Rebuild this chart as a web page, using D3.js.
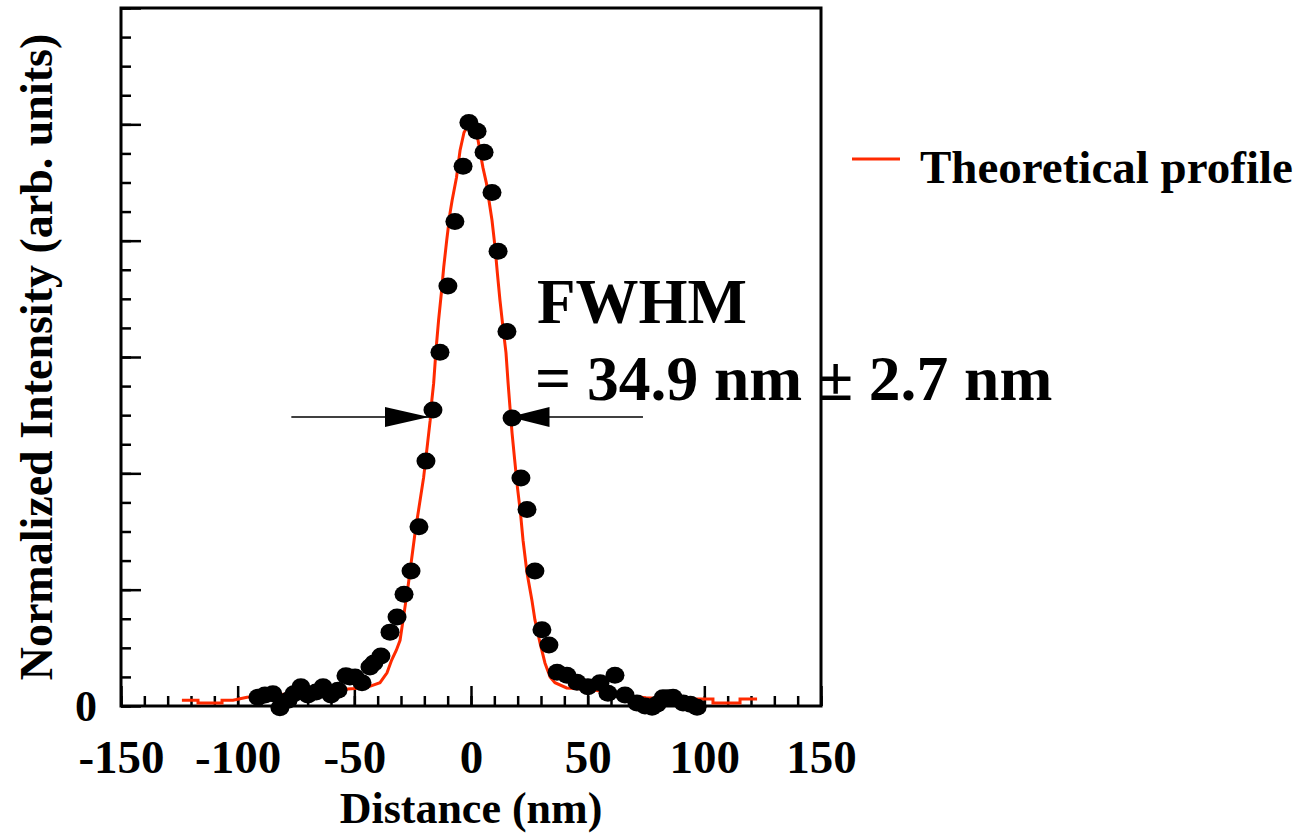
<!DOCTYPE html>
<html>
<head>
<meta charset="utf-8">
<script src="https://cdn.jsdelivr.net/npm/d3@7"></script>
<style>
  body { margin: 0; background: #fff; }
  text { font-family: "Times New Roman", "Liberation Serif", serif; font-weight: bold; fill: #000; }
</style>
</head>
<body>
<div class="plot"></div>
<script>
// measured points (nm, normalized intensity)
var dotX = [-91.3,-88.3,-84.9,-81.9,-78.4,-75.9,-72.9,-69.9,-66.4,-63.4,-60.0,-57.0,-53.6,-51.9,-49.7,-46.7,-43.3,-41.6,-38.6,
	-34.7,-31.7,-28.7,-25.7,-22.3,-19.3,-16.3,-13.3,-9.9,-6.9,-3.4,-0.9,2.6,5.6,9.0,11.6,15.4,17.6,21.4,24.0,27.4,30.4,33.4,
	36.9,41.1,45.4,50.1,55.3,58.7,61.7,66.0,71.1,74.6,77.6,79.7,82.3,84.4,86.6,90.9,94.0,96.9];
var dotY = [0.015,0.019,0.021,-0.003,0.010,0.021,0.033,0.019,0.024,0.033,0.019,0.027,0.052,0.050,0.050,0.040,0.067,0.074,0.086,
	0.127,0.153,0.192,0.232,0.308,0.421,0.509,0.608,0.722,0.833,0.928,1.003,0.988,0.952,0.883,0.782,0.644,0.495,0.392,0.338,0.232,0.131,0.105,
	0.058,0.053,0.041,0.033,0.040,0.022,0.053,0.019,0.005,0.000,-0.002,0.003,0.014,0.014,0.015,0.005,0.003,-0.002];

// theoretical profile
var profX = [-123.9,-117,-117,-106.7,-106.7,-102,-96,-90,-80,-70,-60,-50,-44,-39,-36,-34,-32,-30.4,-28.3,-26.8,-25.5,-24,-22,-20.3,
	-18.6,-17.5,-16.8,-16,-15,-13.9,-12.7,-11.7,-10.4,-9,-8.1,-6.2,-4.7,-3,-1,1.5,3,5.1,6.6,7.7,9,10.3,11.3,12.4,13.7,15,15.9,16.7,
	17.6,18.6,19.9,21.2,22.3,24,26.1,27.4,29.6,31.7,33.9,36,41,50,58,66,75,85,95,99.4,103.7,103.7,115.3,115.3,122.6];
var profY = [0.010,0.010,0.005,0.005,0.010,0.010,0.015,0.017,0.020,0.023,0.027,0.030,0.033,0.040,0.057,0.079,0.096,0.113,0.170,0.211,0.251,0.297,0.349,0.393,
	0.452,0.491,0.525,0.555,0.612,0.663,0.710,0.754,0.801,0.847,0.869,0.909,0.955,0.986,1.0,0.99,0.973,0.926,0.899,0.869,0.835,0.789,0.744,0.698,0.651,0.607,0.555,0.514,
	0.469,0.428,0.376,0.332,0.285,0.229,0.182,0.148,0.108,0.074,0.050,0.040,0.031,0.029,0.024,0.018,0.014,0.012,0.012,0.012,0.012,0.005,0.005,0.012,0.012];

var xMajor = [-150,-100,-50,0,50,100,150];
var yMajor = [0,0.2,0.4,0.6,0.8,1.0,1.2];

// FWHM arrows (nm) at half maximum
var fwhmY = 0.497;
var fwhmLeft = [-77, -18];
var fwhmRight = [16.5, 73.7];

var m = {t:8,r:494,b:128,l:121},
	W = 1315, H = 834,
	w = W - m.l - m.r,
	h = H - m.t - m.b;

var svg = d3.select('.plot')
	.append('svg')
	.attr('width', W)
	.attr('height', H);

var g = svg.append('g').attr('transform','translate('+m.l+','+m.t+')');

var x = d3.scaleLinear().domain([-150,150]).range([0,w]);
var y = d3.scaleLinear().domain([0,1.2]).range([h,0]);

// minor ticks
g.append('g')
	.attr('transform','translate(0,'+h+')')
	.call(d3.axisBottom(x).tickValues(d3.range(-150,151,10)).tickSize(-10).tickFormat(''))
	.call(s => s.select('.domain').remove())
	.selectAll('line').attr('stroke-width',2.5);
g.append('g')
	.call(d3.axisLeft(y).tickValues(d3.range(0,1.21,0.05)).tickSize(-10).tickFormat(''))
	.call(s => s.select('.domain').remove())
	.selectAll('line').attr('stroke-width',2.5);

// major ticks + labels
var xAxis = g.append('g')
	.attr('transform','translate(0,'+h+')')
	.call(d3.axisBottom(x).tickValues(xMajor).tickSize(-20).tickPadding(34).tickFormat(d => String(d)));
xAxis.select('.domain').remove();
xAxis.selectAll('line').attr('stroke-width',2.5);
xAxis.selectAll('text').style('font-size','47px');

var yAxis = g.append('g')
	.call(d3.axisLeft(y).tickValues(yMajor).tickSize(-20).tickPadding(24).tickFormat(d => d === 0 ? '0' : ''));
yAxis.select('.domain').remove();
yAxis.selectAll('line').attr('stroke-width',2.5);
yAxis.selectAll('text').style('font-size','44px');

// frame
g.append('rect')
	.attr('width', w).attr('height', h)
	.attr('fill','none').attr('stroke','#000').attr('stroke-width',3);

// theoretical profile
var prof = profX.map((d,i) => [d, profY[i]]);
g.append('path')
	.datum(prof)
	.attr('fill','none')
	.attr('stroke','#ff2a00')
	.attr('stroke-width',3)
	.attr('d', d3.line().x(d => x(d[0])).y(d => y(d[1])));

// data points
g.selectAll('.dot')
	.data(dotX.map((d,i) => [d, dotY[i]]))
	.enter().append('ellipse')
	.attr('class','dot')
	.attr('cx', d => x(d[0]))
	.attr('cy', d => y(d[1]))
	.attr('rx', 9.5).attr('ry', 8.5)
	.attr('fill','#000');

// FWHM arrows
var ay = y(fwhmY);
g.append('line').attr('x1',x(fwhmLeft[0])).attr('x2',x(fwhmLeft[1])).attr('y1',ay).attr('y2',ay)
	.attr('stroke','#000').attr('stroke-width',1.5);
g.append('path').attr('d','M'+x(fwhmLeft[1])+','+ay+'l-44,-10v20z').attr('fill','#000');
g.append('line').attr('x1',x(fwhmRight[0])).attr('x2',x(fwhmRight[1])).attr('y1',ay).attr('y2',ay)
	.attr('stroke','#000').attr('stroke-width',1.5);
g.append('path').attr('d','M'+x(fwhmRight[0])+','+ay+'l40,-10v20z').attr('fill','#000');

// annotation
svg.append('text').attr('x',537).attr('y',323).style('font-size','63px').text('FWHM');
svg.append('text').attr('x',535).attr('y',400).style('font-size','63.5px').text('= 34.9 nm \u00b1 2.7 nm');

// axis titles
svg.append('text')
	.attr('x', m.l + w/2).attr('y', 823)
	.attr('text-anchor','middle')
	.style('font-size','44px')
	.text('Distance (nm)');
svg.append('text')
	.attr('transform','translate(52,357) rotate(-90)')
	.attr('text-anchor','middle')
	.style('font-size','46px')
	.text('Normalized Intensity (arb. units)');

// legend
svg.append('line').attr('x1',852).attr('x2',900).attr('y1',159).attr('y2',159)
	.attr('stroke','#ff2a00').attr('stroke-width',3);
svg.append('text').attr('x',920).attr('y',183).style('font-size','47px').text('Theoretical profile');
</script>
</body>
</html>
